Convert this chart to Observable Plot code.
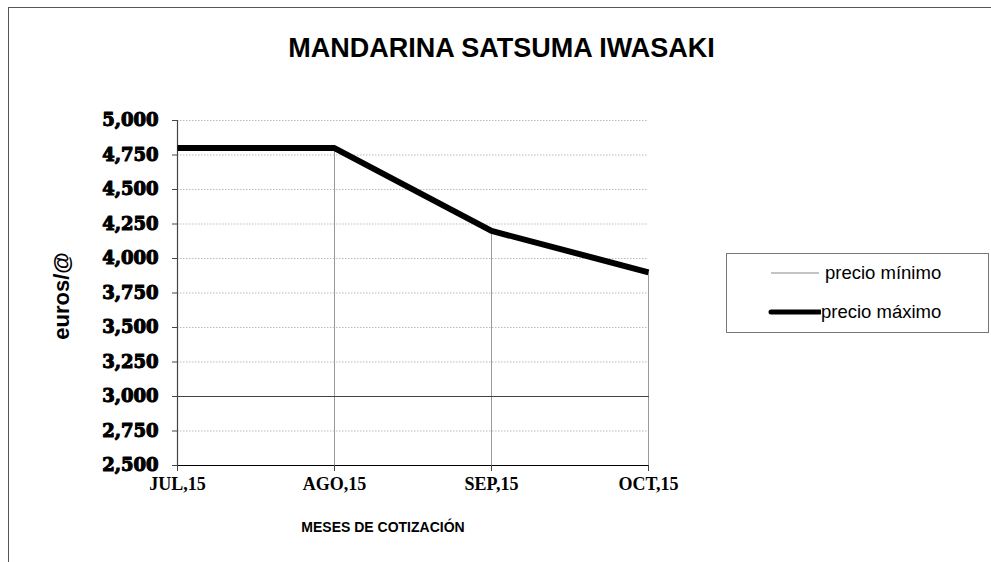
<!DOCTYPE html>
<html>
<head>
<meta charset="utf-8">
<script src="https://cdn.jsdelivr.net/npm/d3@7"></script>
<script src="https://cdn.jsdelivr.net/npm/@observablehq/plot@0.6"></script>
<style>
  html, body { margin: 0; padding: 0; background: #fff; }
  #wrap { position: relative; width: 991px; height: 562px; overflow: hidden; }
  #wrap > svg { position: absolute; left: 0; top: 0; }
  .frame { position: absolute; left: 8px; top: 7px; width: 1000px; height: 600px; border: 1px solid #555; box-sizing: border-box; }
  .title { position: absolute; left: 0; width: 1003px; top: 33px; text-align: center; font: bold 27px "Liberation Sans", Arial, sans-serif; color: #000; }
  .ylab { position: absolute; left: 62px; top: 296px; transform: translate(-50%, -50%) rotate(-90deg); font: bold 22px "Liberation Sans", Arial, sans-serif; white-space: nowrap; }
  .xlab { position: absolute; left: 383px; top: 519px; transform: translateX(-50%); font: bold 14px "Liberation Sans", Arial, sans-serif; white-space: nowrap; }
  .legend { position: absolute; left: 726px; top: 253px; width: 263px; height: 80px; border: 1px solid #777; box-sizing: border-box; background: #fff; font: 18.5px "Liberation Sans", Arial, sans-serif; }
  .legend .row { position: absolute; left: 0; height: 22px; display: flex; align-items: center; white-space: nowrap; }
</style>
</head>
<body>
<div id="wrap">
  <div class="frame"></div>
</div>
<script>
const months = ["JUL,15", "AGO,15", "SEP,15", "OCT,15"];
const precioMinimo = [3.0, 3.0, 3.0, 3.0];
const precioMaximo = [4.8, 4.8, 4.2, 3.9];
const yTicks = [2.5, 2.75, 3.0, 3.25, 3.5, 3.75, 4.0, 4.25, 4.5, 4.75, 5.0];
const seriesNames = ["precio mínimo", "precio máximo"];
const title = "MANDARINA SATSUMA IWASAKI";
const yLabel = "euros/@";
const xLabel = "MESES DE COTIZACIÓN";

const minData = months.map((m, i) => ({month: m, value: precioMinimo[i]}));
const maxData = months.map((m, i) => ({month: m, value: precioMaximo[i]}));
const fmt = v => d3.format(".3f")(v).replace(".", ",");

const plot = Plot.plot({
  width: 991,
  height: 562,
  marginLeft: 177,
  marginRight: 343,
  marginTop: 120,
  marginBottom: 97,
  x: {type: "point", domain: months, padding: 0},
  y: {domain: [2.5, 5.0]},
  marks: [
    Plot.ruleY(yTicks, {stroke: "#bbb", strokeDasharray: "1.5,1.5", strokeWidth: 1}),
    Plot.ruleX(maxData, {x: "month", y1: 2.5, y2: "value", stroke: "#999", strokeWidth: 1}),
    Plot.ruleX([months[0]], {y1: 2.5, y2: 5.0, stroke: "#444", strokeWidth: 1.2}),
    Plot.ruleY([2.5], {stroke: "#000", strokeWidth: 1.2}),
    Plot.axisY({ticks: yTicks, tickFormat: fmt, tickSize: 5, tickPadding: 14, stroke: "#444",
      fontFamily: "DejaVu Serif", fontWeight: "bold", fontSize: 18, fill: "#000", label: null}),
    Plot.axisX({tickSize: 6, tickPadding: 6, stroke: "#444",
      fontFamily: "Liberation Serif", fontWeight: "bold", fontSize: 18, fill: "#000", label: null}),
    Plot.line(minData, {x: "month", y: "value", stroke: "#444", strokeWidth: 1.2}),
    Plot.line(maxData, {x: "month", y: "value", stroke: "#000", strokeWidth: 6, strokeLinecap: "butt", strokeLinejoin: "miter"})
  ]
});
// thicken the heavy serif y tick labels
const tickLabels = new Set(yTicks.map(fmt));
plot.querySelectorAll("text").forEach(t => {
  if (tickLabels.has(t.textContent.trim())) {
    t.style.stroke = "#000";
    t.style.strokeWidth = "1.1px";
    t.style.strokeLinejoin = "round";
  }
});
const wrap = document.getElementById("wrap");
wrap.insertBefore(plot, wrap.firstChild);

function addDiv(cls, text) {
  const d = document.createElement("div");
  d.className = cls;
  d.textContent = text;
  wrap.appendChild(d);
  return d;
}
addDiv("title", title);
addDiv("ylab", yLabel);
addDiv("xlab", xLabel);

const legend = document.createElement("div");
legend.className = "legend";
const specs = [
  {name: seriesNames[0], top: 8, w: 1, color: "#888", cap: "butt", x1: 44, x2: 92, gap: 4},
  {name: seriesNames[1], top: 47, w: 5, color: "#000", cap: "round", x1: 44, x2: 93, gap: 0}
];
specs.forEach(s => {
  const row = document.createElement("div");
  row.className = "row";
  row.style.top = s.top + "px";
  const ns = "http://www.w3.org/2000/svg";
  const svg = document.createElementNS(ns, "svg");
  svg.setAttribute("width", 94 + s.gap);
  svg.setAttribute("height", 20);
  const ln = document.createElementNS(ns, "line");
  ln.setAttribute("x1", s.x1); ln.setAttribute("x2", s.x2);
  ln.setAttribute("y1", 10); ln.setAttribute("y2", 10);
  ln.setAttribute("stroke", s.color); ln.setAttribute("stroke-width", s.w);
  ln.setAttribute("stroke-linecap", s.cap);
  svg.appendChild(ln);
  row.appendChild(svg);
  const sp = document.createElement("span");
  sp.textContent = s.name;
  row.appendChild(sp);
  legend.appendChild(row);
});
wrap.appendChild(legend);
</script>
</body>
</html>
